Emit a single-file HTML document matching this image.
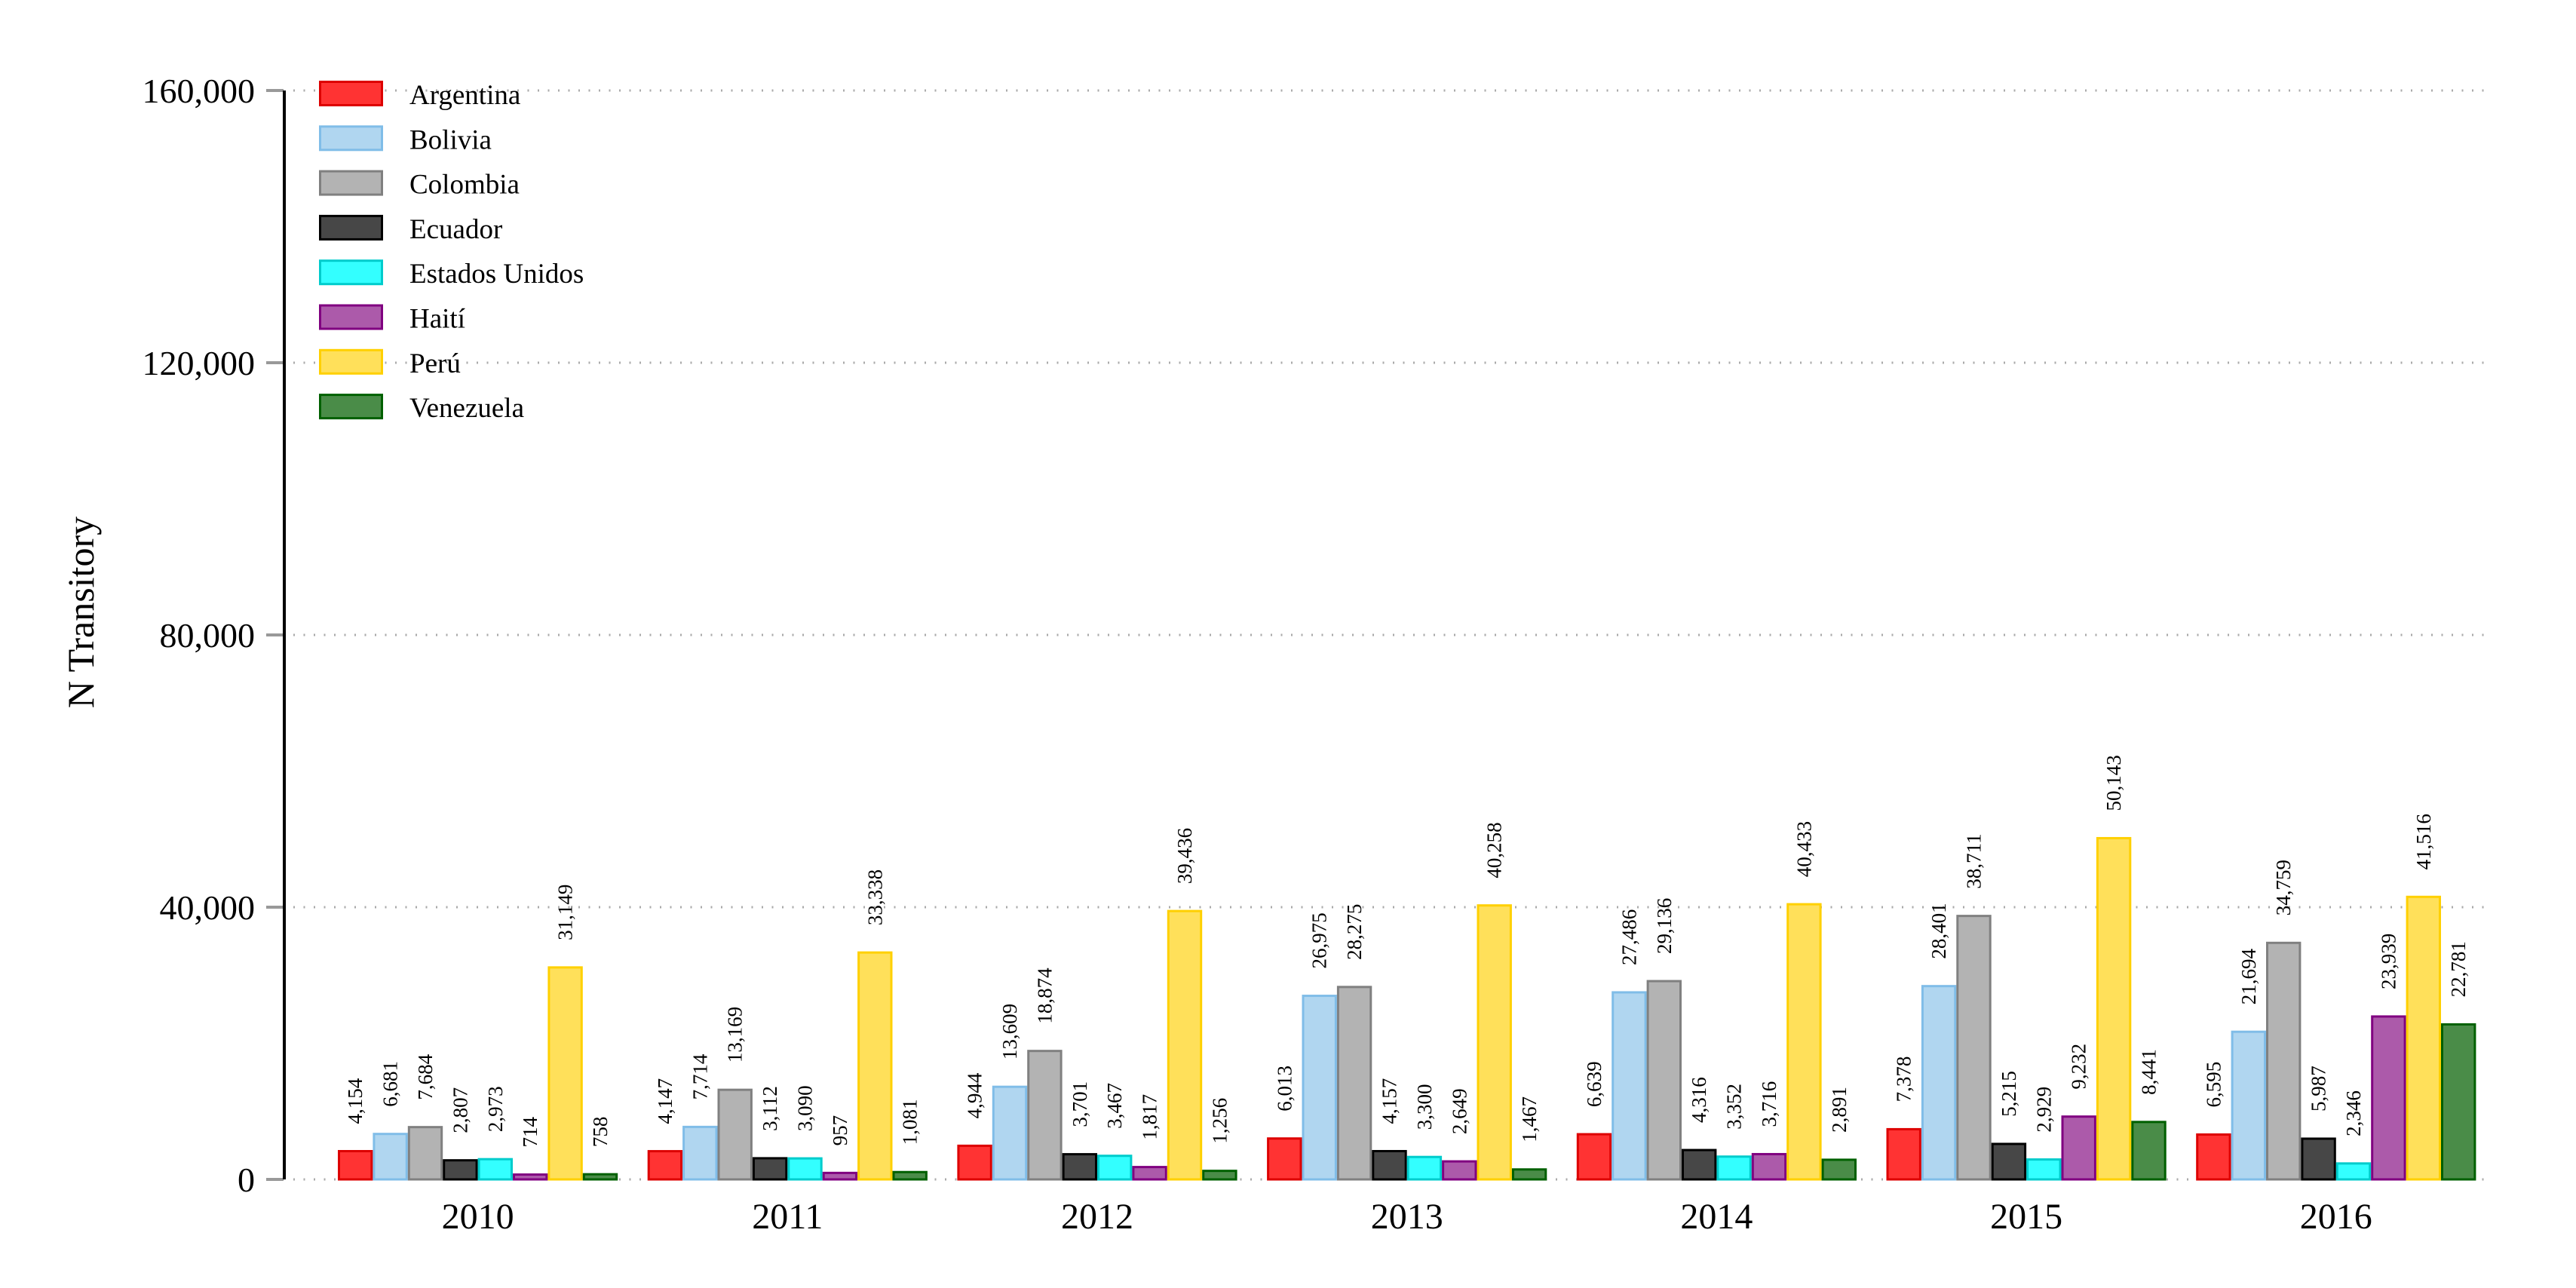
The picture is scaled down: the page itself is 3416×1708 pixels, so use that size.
<!DOCTYPE html>
<html><head><meta charset="utf-8"><style>
html,body{margin:0;padding:0;background:#fff;}
svg{display:block;}
</style></head><body>
<svg id="chart" xmlns="http://www.w3.org/2000/svg" width="3416" height="1708" viewBox="0 0 3416 1708">
<rect x="0" y="0" width="3416" height="1708" fill="#fff"/>
<g id="grid"></g>
<g id="axes"></g>
<g id="bars"></g>
<g id="labels"></g>
<g id="legend"></g>
<text x="0" y="0" transform="translate(124,812) rotate(-90)" text-anchor="middle" font-family="'Liberation Serif', serif" font-size="50" fill="#000">N Transitory</text>
</svg>
<script>
const years = ["2010","2011","2012","2013","2014","2015","2016"];
const countries = ["Argentina","Bolivia","Colombia","Ecuador","Estados Unidos","Haití","Perú","Venezuela"];
const argentina = [4154,4147,4944,6013,6639,7378,6595];
const bolivia = [6681,7714,13609,26975,27486,28401,21694];
const colombia = [7684,13169,18874,28275,29136,38711,34759];
const ecuador = [2807,3112,3701,4157,4316,5215,5987];
const estadosUnidos = [2973,3090,3467,3300,3352,2929,2346];
const haiti = [714,957,1817,2649,3716,9232,23939];
const peru = [31149,33338,39436,40258,40433,50143,41516];
const venezuela = [758,1081,1256,1467,2891,8441,22781];
const yTicks = [0,40000,80000,120000,160000];
const yTickLabels = ["0","40,000","80,000","120,000","160,000"];

const series = [argentina,bolivia,colombia,ecuador,estadosUnidos,haiti,peru,venezuela];
const fills = ["#ff3333","#b0d6f0","#b3b3b3","#474747","#33ffff","#ac5aaa","#ffe05a","#4a8c48"];
const strokes = ["#dd0000","#80bde8","#808080","#000000","#00cccc","#800080","#ffd000","#006000"];
const NS = "http://www.w3.org/2000/svg";
const Y0 = 1564, YTOP = 120, VMAX = 160000;
function yScale(v){ return Y0 - (v / VMAX) * (Y0 - YTOP); }
const G0 = 448, GSTEP = 410.7, BW = 46.4;
function groupX(i){ return G0 + i * GSTEP; }
function barX(i, s){ return groupX(i) + s * BW; }
function mk(tag, attrs, parent){
  const e = document.createElementNS(NS, tag);
  for (const k in attrs) e.setAttribute(k, attrs[k]);
  parent.appendChild(e);
  return e;
}
const grid = document.getElementById("grid");
const axes = document.getElementById("axes");
const barsG = document.getElementById("bars");
const labelsG = document.getElementById("labels");
const legendG = document.getElementById("legend");

yTicks.forEach((t, i) => {
  const y = yScale(t);
  const gl = mk("line", {x1: 389, x2: 3303, y1: y, y2: y, stroke: "#aaaaaa", "stroke-width": 3, "stroke-dasharray": "2 11.5"}, grid);
  
  
  const tk = mk("line", {x1: 353, x2: 376, y1: y, y2: y, stroke: "#999999", "stroke-width": 4}, axes);
  
  
  const tx = mk("text", {x: 338, y: y + 16, "text-anchor": "end", "font-family": "'Liberation Serif', serif", "font-size": 46, fill: "#000"}, axes);
  tx.textContent = yTickLabels[i];
  
  
});
const ax = mk("line", {x1: 377, x2: 377, y1: YTOP, y2: Y0, stroke: "#000", "stroke-width": 4}, axes);



years.forEach((yr, i) => {
  const t = mk("text", {x: groupX(i) + 4 * BW, y: 1629, "text-anchor": "middle", "font-family": "'Liberation Serif', serif", "font-size": 48, fill: "#000"}, axes);
  t.textContent = yr;
  
  
  series.forEach((vals, s) => {
    const v = vals[i];
    const y = yScale(v);
    const r = mk("rect", {x: barX(i, s) + 1.5, y: y, width: BW - 3, height: Math.max(Y0 - y, 1), fill: fills[s], stroke: strokes[s], "stroke-width": 3}, barsG);
    
    
    const cx = barX(i, s) + BW / 2 + 9;
    const ly = y - 36;
    const lt = mk("text", {x: 0, y: 0, transform: "translate(" + cx + "," + ly + ") rotate(-90)", "text-anchor": "start", "font-family": "'Liberation Serif', serif", "font-size": 27, fill: "#000"}, labelsG);
    lt.textContent = v.toLocaleString("en-US");
    
    
  });
});

countries.forEach((c, s) => {
  const y = 107 + s * 59.3;
  const g = mk("g", {}, legendG);
  
  
  const sw = mk("rect", {x: 424.5, y: y + 1.5, width: 82, height: 31, fill: fills[s], stroke: strokes[s], "stroke-width": 3}, g);
  
  
  const t = mk("text", {x: 543, y: y + 31, "font-family": "'Liberation Serif', serif", "font-size": 37, fill: "#000"}, g);
  t.textContent = c;
  
  
});
</script>
</body></html>
